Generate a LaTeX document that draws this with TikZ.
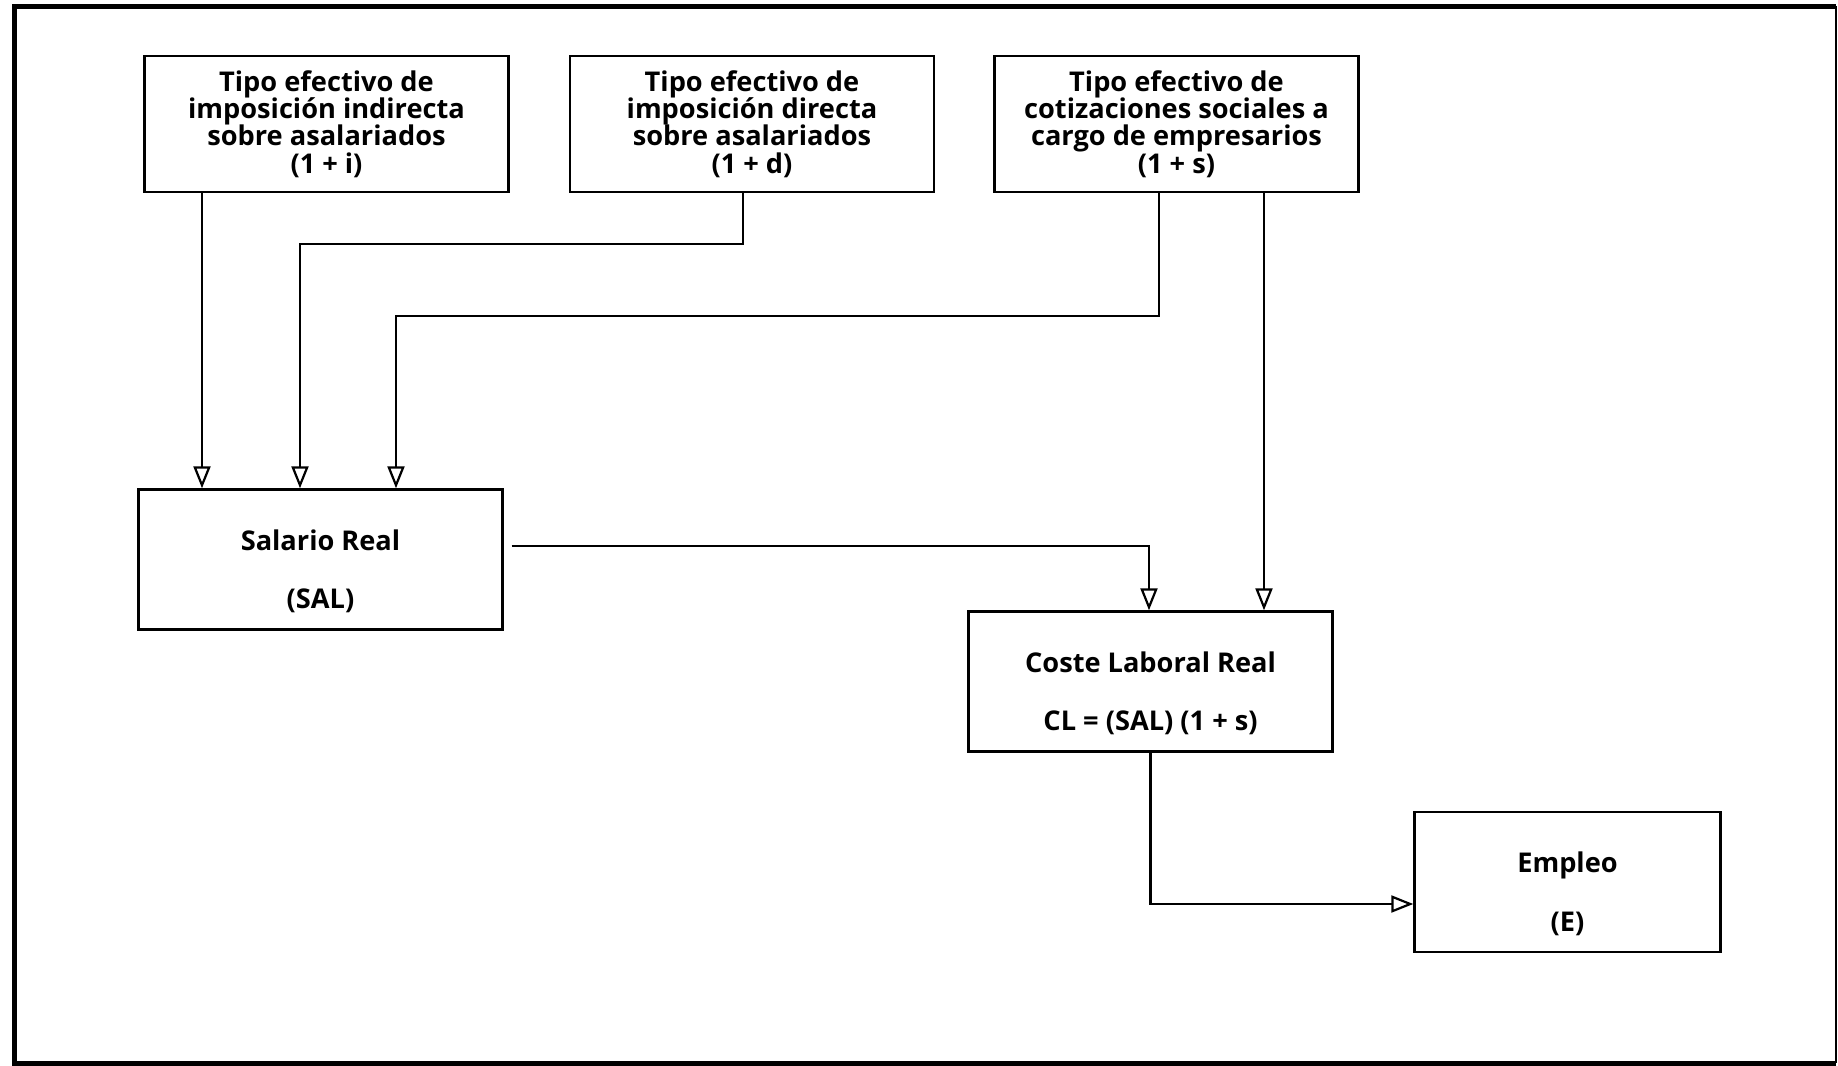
\documentclass[tikz,border=0pt]{standalone}
\usepackage{fontspec}
\setmainfont{Open Sans}
\usetikzlibrary{arrows.meta}

\newcommand{\alto}{\rule{0pt}{22pt}}

\begin{document}
\begin{tikzpicture}[x=0.5pt, y=-0.5pt,
    caja/.style={draw, line width=1.2pt, minimum width=182pt, minimum height=68pt,
      align=center, inner sep=0pt, font=\bfseries\fontsize{13.6}{13.7}\selectfont},
    cajados/.style={caja, minimum height=70pt},
    flecha/.style={line width=1.1pt, -{Triangle[open, length=11pt, width=8.5pt]}}]
    \def \gap {15.6pt} % separacion entre las dos lineas
    \useasboundingbox (0,0) rectangle (1838,1066);
    % marco
    \draw[line width=2.5pt] (1836,6) -- (14,6) -- (14,1063) -- (1836,1063);
    \draw[line width=0.8pt] (1836,6) -- (1836,1063);
    % cajas
    \node[caja] (ind) at (326.5,124) {Tipo efectivo de\\imposición indirecta\\sobre asalariados\\(1 + i)};
    \node[caja] (dir) at (752,124) {Tipo efectivo de\\imposición directa\\sobre asalariados\\(1 + d)};
    \node[caja] (cot) at (1176.5,124) {Tipo efectivo de\\cotizaciones sociales a\\cargo de empresarios\\(1 + s)};
    \node[cajados] (sal) at (320.5,559.5) {\alto Salario Real\\[\gap](SAL)};
    \node[cajados] (cos) at (1150.5,681.5) {\alto Coste Laboral Real\\[\gap]CL = (SAL) (1 + s)};
    \node[cajados, minimum width=153pt] (emp) at (1567.5,882) {\alto Empleo\\[\gap](E)};
    % flechas
    \draw[flecha] (ind.south -| 202,0) -- (sal.north -| 202,0);
    \draw[flecha] (dir.south -| 743,0) -- (743,244) -| (sal.north -| 300,0);
    \draw[flecha] (cot.south -| 1159,0) -- (1159,316) -| (sal.north -| 396,0);
    \draw[flecha] (cot.south -| 1264,0) -- (cos.north -| 1264,0);
    \draw[flecha] ([xshift=4pt]sal.east |- 0,546) -| (cos.north -| 1149,0);
    \draw[flecha] (cos.south) |- (emp.west |- 0,904);
\end{tikzpicture}
\end{document}
